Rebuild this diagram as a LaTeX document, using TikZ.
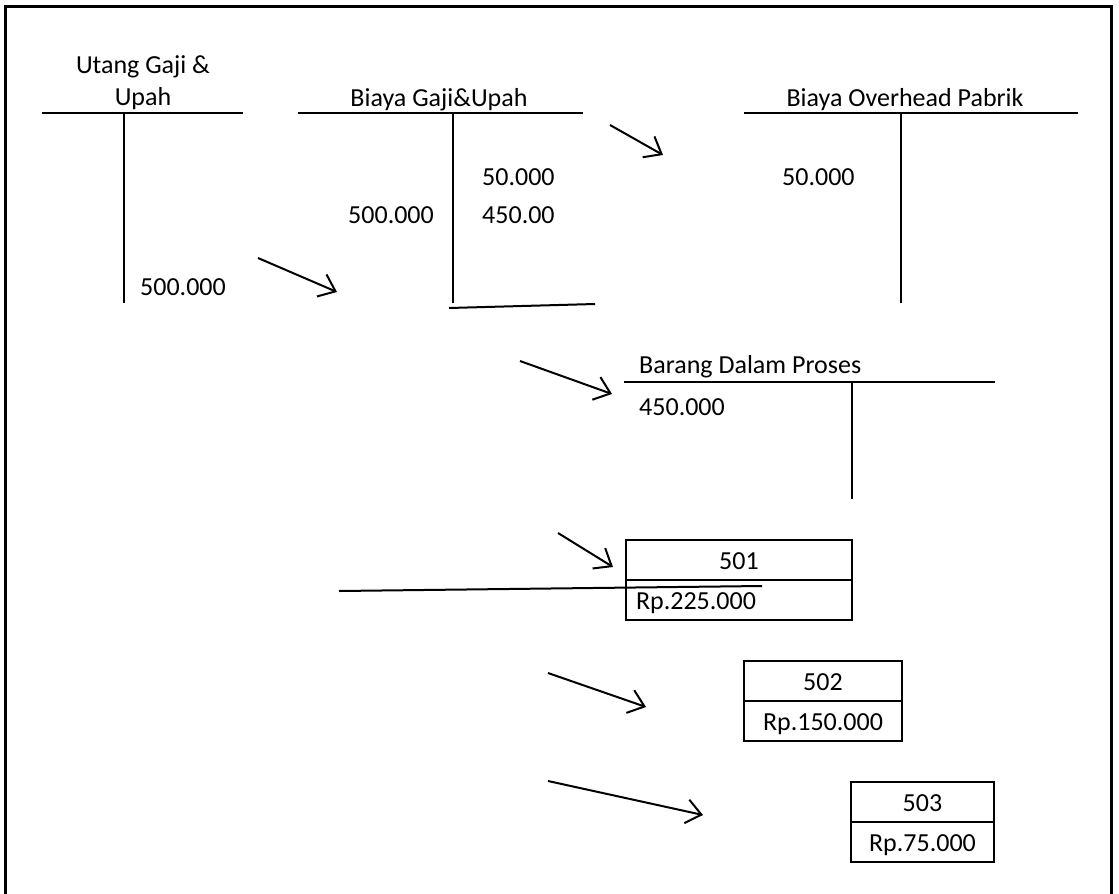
\documentclass[tikz,border=0pt]{standalone}
\usepackage{fontspec}
\setmainfont{Carlito}
\usetikzlibrary{arrows.meta}
\begin{document}
\begin{tikzpicture}[x=1pt,y=-1pt,
  rule/.style={line width=2pt},
  frame/.style={line width=3pt},
  flow/.style={line width=2pt,-{Straight Barb[length=15pt,width=24pt]}},
  lbl/.style={inner sep=0pt,font=\fontsize{26}{31}\selectfont},
  cell/.style={draw,line width=2pt,inner sep=0pt,minimum height=40pt,
    text height=21pt,text depth=3pt,font=\fontsize{26}{31}\selectfont},
  ]
\useasboundingbox (0,0) rectangle (1119,894);

% outer frame, open at the bottom
\draw[frame] (5,894) -- (5,6) -- (1111,6) -- (1111,894);

% T-account: Utang Gaji & Upah
\node[lbl,anchor=base] (ug1) at (143,73) {Utang Gaji \&};
\node[lbl,anchor=base] (ug2) at (143,105) {Upah};
\draw[rule] (42,113) -- (243,113);
\draw[rule] (124,113) -- (124,303);
\node[lbl,anchor=base west] (ugcr) at (140,295) {500.000};

% T-account: Biaya Gaji & Upah
\node[lbl,anchor=base] (bgu) at (439,106) {Biaya Gaji\&Upah};
\draw[rule] (298,113) -- (583,113);
\draw[rule] (453,113) -- (453,303);
\node[lbl,anchor=base west] (bgudr) at (348,223) {500.000};
\node[lbl,anchor=base west] (bgucra) at (482,185) {50.000};
\node[lbl,anchor=base west] (bgucrb) at (482,223) {450.00};
\draw[rule] (449,308) -- (595,304);

% T-account: Biaya Overhead Pabrik
\node[lbl,anchor=base] (bop) at (905,106) {Biaya Overhead Pabrik};
\draw[rule] (744,113) -- (1078,113);
\draw[rule] (901,113) -- (901,303);
\node[lbl,anchor=base west] (bopdr) at (782,185) {50.000};

% T-account: Barang Dalam Proses
\node[lbl,anchor=base west] (bdp) at (639,373) {Barang Dalam Proses};
\draw[rule] (624,382) -- (995,382);
\draw[rule] (852,382) -- (852,499);
\node[lbl,anchor=base west] (bdpdr) at (639,415) {450.000};

% job order cards
\node[cell,minimum width=226pt] (j501h) at (739,560) {501};
\node[cell,minimum width=226pt,text width=206pt,align=left] (j501v) at (739,600) {Rp.225.000};
\node[cell,minimum width=158pt] (j502h) at (823,681) {502};
\node[cell,minimum width=158pt] (j502v) at (823,721) {Rp.150.000};
\node[cell,minimum width=143pt] (j503h) at (922.5,802) {503};
\node[cell,minimum width=143pt] (j503v) at (922.5,842) {Rp.75.000};

% stray rule across card 501
\coordinate (sa) at (339,591);
\coordinate (sb) at (762,586);
\draw[rule] (sa) -- (sb);

% flow arrows
\coordinate (a1s) at (258,258); \coordinate (a1e) at (337,292);
\coordinate (a2s) at (610,125); \coordinate (a2e) at (663,155);
\coordinate (a3s) at (520,361); \coordinate (a3e) at (612,394);
\coordinate (a4s) at (558,533); \coordinate (a4e) at (613,567);
\coordinate (a5s) at (548,673); \coordinate (a5e) at (646,707);
\coordinate (a6s) at (548,781); \coordinate (a6e) at (703,815);
\draw[flow] (a1s) -- (a1e);
\draw[flow] (a2s) -- (a2e);
\draw[flow] (a3s) -- (a3e);
\draw[flow] (a4s) -- (a4e);
\draw[flow] (a5s) -- (a5e);
\draw[flow] (a6s) -- (a6e);
\end{tikzpicture}
\end{document}
